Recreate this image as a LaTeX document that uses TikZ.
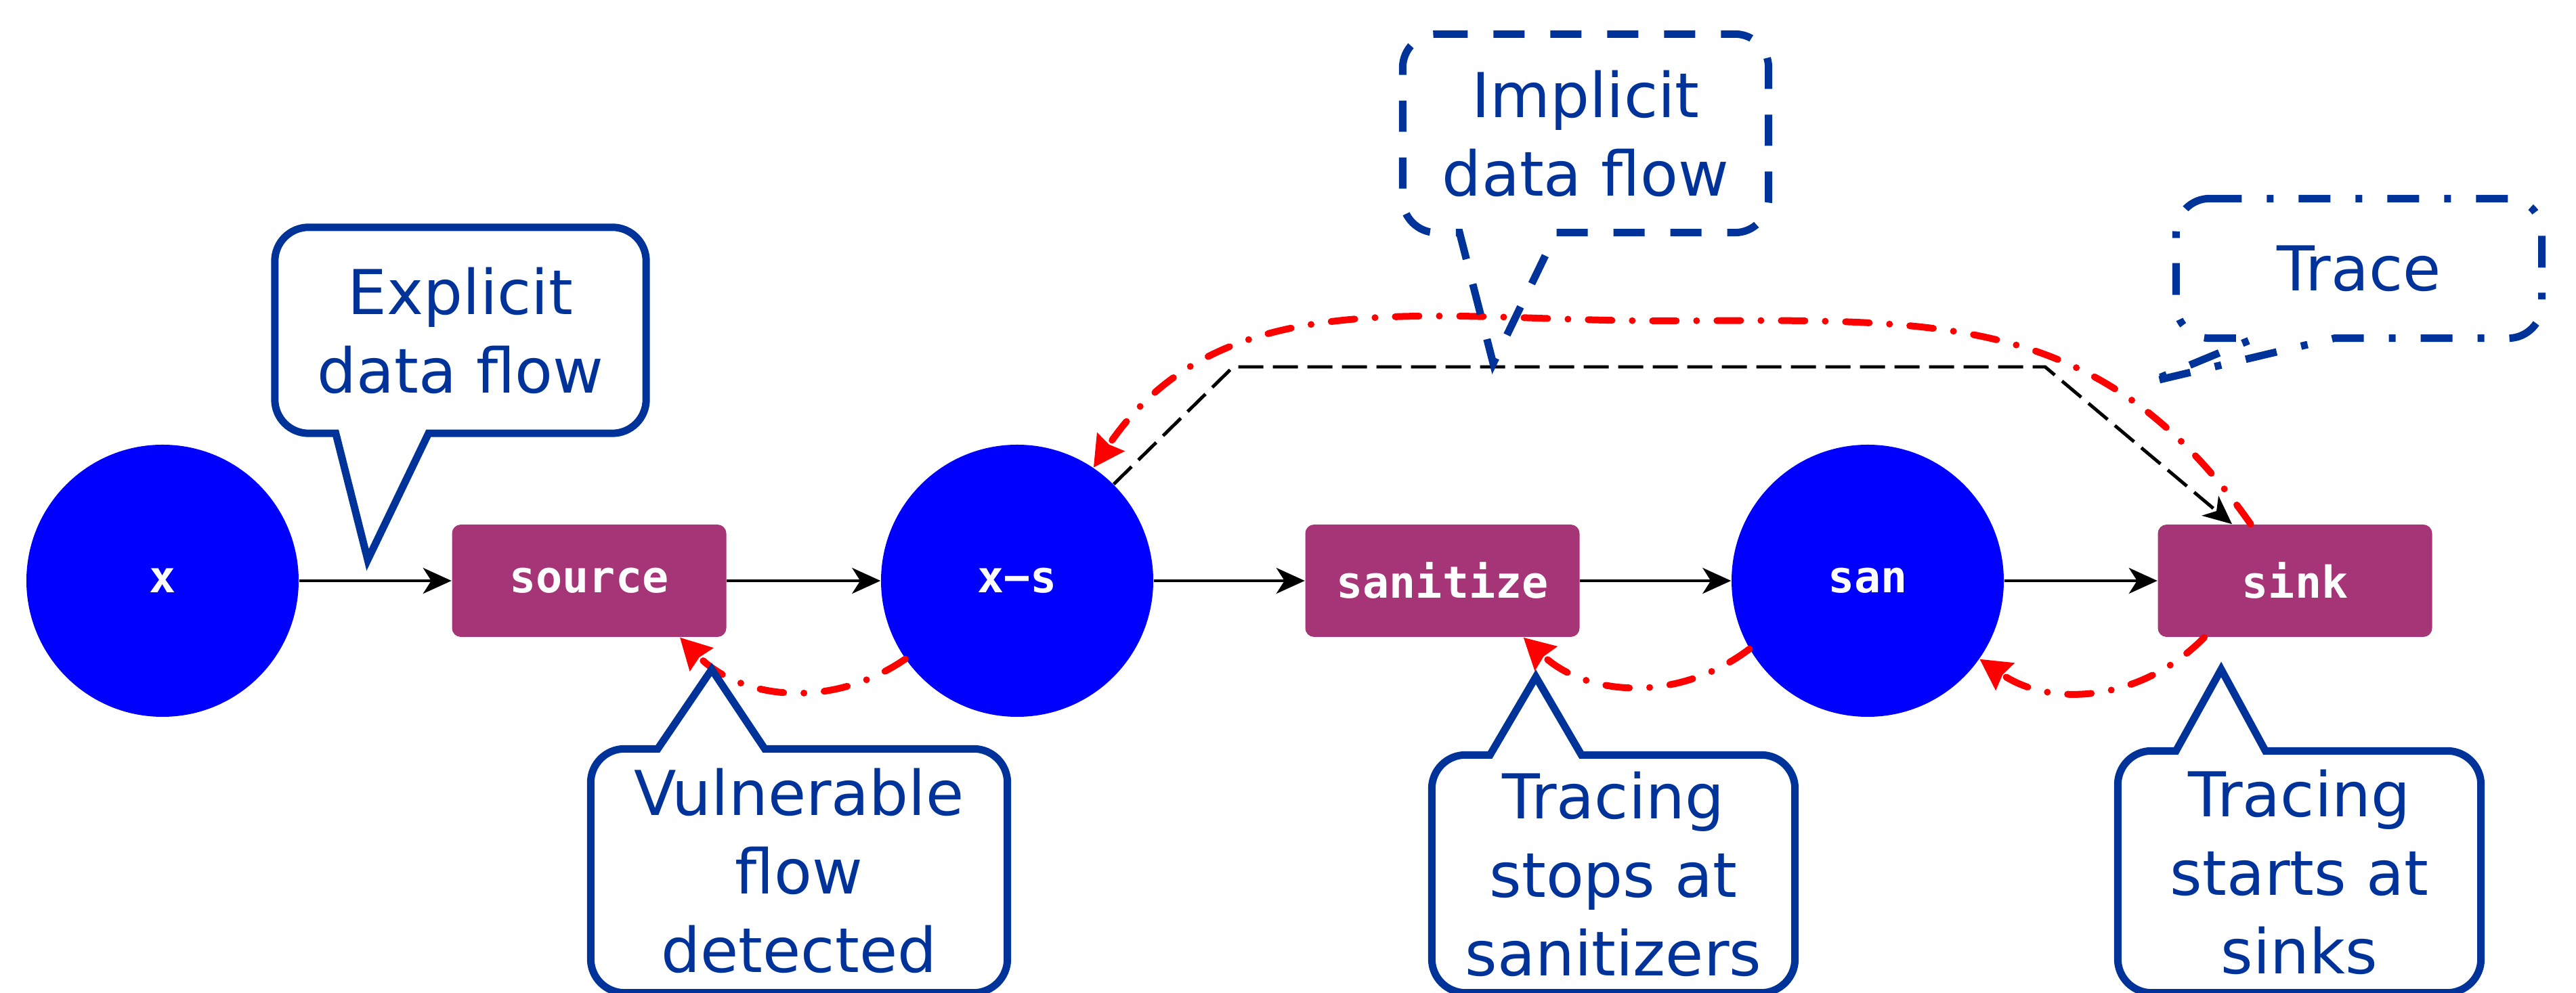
\documentclass[tikz,border=0pt]{standalone}
\usepackage{fontspec}
\setmainfont{DejaVu Sans}
\setmonofont{DejaVu Sans Mono}
\usetikzlibrary{arrows.meta,calc}
\definecolor{cblue}{RGB}{0,51,153}
\definecolor{nodeblue}{RGB}{0,0,255}
\definecolor{purp}{RGB}{166,53,119}
\def\crad{0.5cm}
\newcommand{\callD}[5]{\draw[#1] ([xshift=\crad]#2.north west) -- ([xshift=-\crad]#2.north east) arc[start angle=90,end angle=0,radius=\crad] -- ([yshift=\crad]#2.south east) arc[start angle=0,end angle=-90,radius=\crad] -- ([xshift=#4]#2.south west) -- (#5) -- ([xshift=#3]#2.south west) -- ([xshift=\crad]#2.south west) arc[start angle=-90,end angle=-180,radius=\crad] -- ([yshift=-\crad]#2.north west) arc[start angle=180,end angle=90,radius=\crad] -- cycle;}
\newcommand{\callU}[5]{\draw[#1] ([xshift=\crad]#2.north west) -- ([xshift=#3]#2.north west) -- (#5) -- ([xshift=#4]#2.north west) -- ([xshift=-\crad]#2.north east) arc[start angle=90,end angle=0,radius=\crad] -- ([yshift=\crad]#2.south east) arc[start angle=0,end angle=-90,radius=\crad] -- ([xshift=\crad]#2.south west) arc[start angle=-90,end angle=-180,radius=\crad] -- ([yshift=-\crad]#2.north west) arc[start angle=180,end angle=90,radius=\crad] -- cycle;}
\tikzset{
  nodefont/.style={font=\ttfamily\bfseries\fontsize{18.5}{21}\selectfont},
  circ/.style={circle, fill=nodeblue, minimum size=4.02cm, inner sep=0pt, text=white, nodefont},
  rbox/.style={rectangle, rounded corners=0.13cm, fill=purp, minimum width=4.05cm, minimum height=1.66cm, inner sep=0pt, text=white, nodefont},
  flowarr/.style={line width=1.3pt, -{Stealth[length=0.42cm,width=0.38cm,inset=0.12cm]}},
  implarr/.style={line width=1.4pt, dash pattern=on 0.37cm off 0.14cm, -{Stealth[length=0.42cm,width=0.38cm,inset=0.12cm]}},
  tracearr/.style={red, line width=0.1cm, line cap=round, dash pattern=on 0.35cm off 0.3cm on 0cm off 0.3cm, -{Stealth[length=0.45cm,width=0.47cm,inset=0.04cm]}},
  ctext/.style={inner sep=0pt, align=center, text=cblue, font=\fontsize{26}{33}\selectfont},
  cline/.style={draw=cblue, line width=0.11cm, miter limit=25},
  cdash/.style={cline, dash pattern=on 0.46cm off 0.38cm},
  cdashdot/.style={cline, dash pattern=on 0.47cm off 0.37cm on 0.1cm off 0.37cm},
}
\begin{document}
\begin{tikzpicture}
\clip (0,0) rectangle (38.04,14.67);
% main nodes
\node[circ] (x) at (2.40,6.09) {x};
\node[rbox] (source) at (8.70,6.09) {source};
\node[circ] (xs) at (15.02,6.09) {x−s};
\node[rbox] (sanitize) at (21.30,6.09) {sanitize};
\node[circ] (san) at (27.58,6.09) {san};
\node[rbox] (sink) at (33.89,6.09) {sink};
% explicit flow
\draw[flowarr] (x) -- (source);
\draw[flowarr] (source) -- (xs);
\draw[flowarr] (xs) -- (sanitize);
\draw[flowarr] (sanitize) -- (san);
\draw[flowarr] (san) -- (sink);
% implicit flow
\coordinate (d1) at (18.21,9.25);
\coordinate (d2) at (30.20,9.25);
\draw[implarr] (xs.45) -- (d1) -- (d2) -- (sink.138);
% traces
\coordinate (rtop) at (24.5,9.93);
\draw[tracearr] (sink.128) to[out=125,in=0,looseness=1.1] (rtop) to[out=180,in=56] (xs.56);
\draw[tracearr] (xs.215) to[bend left=40] (source.-32);
\draw[tracearr] (san.210) to[bend left=40] (sanitize.-35);
\draw[tracearr] (sink.212) to[bend left=40] (san.-35);
% callouts
\node[ctext, minimum width=5.47cm, minimum height=3.03cm] (expl) at (6.80,9.79) {Explicit\\data flow};
\coordinate (explT) at (5.43,6.40);
\callD{cline}{expl}{0.90cm}{2.27cm}{explT}
\node[ctext, minimum width=5.39cm, minimum height=2.92cm] (impl) at (23.415,12.70) {Implicit\\data flow};
\coordinate (implT) at (22.05,9.30);
\callD{cdash}{impl}{0.84cm}{2.27cm}{implT}
\node[ctext, minimum width=5.39cm, minimum height=2.05cm] (trc) at (34.835,10.705) {Trace};
\coordinate (trcT) at (31.72,9.02);
\callD{cdashdot}{trc}{1.16cm}{2.34cm}{trcT}
\node[ctext, minimum width=6.14cm, minimum height=3.59cm] (vul) at (11.80,1.805) {Vulnerable\\flow\\detected};
\coordinate (vulT) at (10.51,4.78);
\callU{cline}{vul}{0.99cm}{2.57cm}{vulT}
\node[ctext, minimum width=5.35cm, minimum height=3.50cm] (tss) at (23.825,1.76) {Tracing\\stops at\\sanitizers};
\coordinate (tssT) at (22.68,4.67);
\callU{cline}{tss}{0.86cm}{2.21cm}{tssT}
\node[ctext, minimum width=5.35cm, minimum height=3.56cm] (tsk) at (33.955,1.79) {Tracing\\starts at\\sinks};
\coordinate (tskT) at (32.80,4.78);
\callU{cline}{tsk}{0.86cm}{2.18cm}{tskT}
\end{tikzpicture}
\end{document}
